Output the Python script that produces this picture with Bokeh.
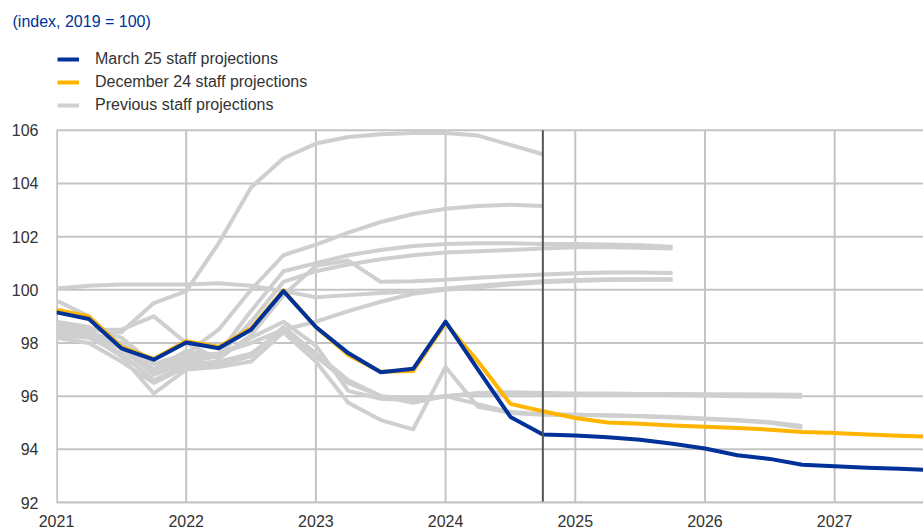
from bokeh.plotting import figure
from bokeh.models import Range1d, FixedTicker, Legend, LegendItem
from bokeh.embed import file_html
from bokeh.resources import INLINE

# ---------------- data ----------------
quarters = [f"{y}Q{q}" for y in range(2021, 2028) for q in range(1, 5)]

march25 = [99.15, 98.9, 97.8, 97.37, 98.02, 97.8, 98.5, 99.95, 98.6, 97.62, 96.9, 97.03,
           98.8, 97.0, 95.22, 94.56, 94.52, 94.45, 94.36, 94.21, 94.03, 93.78, 93.64, 93.42,
           93.36, 93.31, 93.27, 93.22]
december24 = [99.25, 99.0, 97.85, 97.4, 98.07, 97.85, 98.55, 99.98, 98.6, 97.55, 96.92, 96.95,
              98.75, 97.3, 95.71, 95.43, 95.18, 95.01, 94.96, 94.9, 94.85, 94.8, 94.74, 94.65,
              94.61, 94.56, 94.51, 94.47]

prev_a = [98.6, 98.5, 98.4, 99.5, 99.95, 101.75, 103.85, 104.95, 105.5, 105.75, 105.85, 105.9,
          105.9, 105.8, 105.45, 105.1]
prev_b = [98.8, 98.6, 98.2, 97.2, 97.6, 98.5, 100.0, 101.3, 101.7, 102.15, 102.55, 102.85,
          103.05, 103.15, 103.2, 103.15]
prev_c = [98.5, 98.4, 98.0, 97.0, 97.5, 97.6, 99.2, 100.7, 101.0, 101.3, 101.5, 101.65,
          101.72, 101.75, 101.75, 101.72, 101.72, 101.7, 101.68, 101.62]
prev_d = [98.7, 98.5, 98.5, 99.0, 98.0, 97.4, 98.3, 99.8, 100.9, 101.1, 100.3, 100.32,
          100.38, 100.45, 100.52, 100.58, 100.62, 100.65, 100.65, 100.63]
prev_e = [98.4, 98.3, 97.8, 96.8, 97.3, 97.5, 98.8, 100.3, 100.7, 100.95, 101.15, 101.3,
          101.4, 101.45, 101.5, 101.55, 101.6, 101.6, 101.58, 101.55]
prev_f = [100.05, 100.15, 100.2, 100.2, 100.2, 100.25, 100.15, 99.95, 99.72, 99.8, 99.88, 99.95,
          100.05, 100.15, 100.25, 100.32, 100.37, 100.4, 100.4, 100.4]
prev_g = [98.6, 98.4, 97.9, 96.9, 97.4, 97.6, 98.0, 98.5, 98.8, 99.2, 99.55, 99.85,
          100.0, 100.1, 100.2, 100.28, 100.33, 100.37, 100.38, 100.38]
prev_h = [99.6, 99.0, 97.9, 97.0, 97.7, 97.5, 98.2, 98.8, 97.9, 96.2, 95.9, 95.85,
          96.0, 96.12, 96.15, 96.12, 96.1, 96.1, 96.08, 96.08, 96.07, 96.07, 96.06, 96.05]
prev_i = [98.3, 98.2, 97.6, 96.6, 97.2, 97.3, 97.6, 98.5, 97.5, 96.5, 96.0, 95.75,
          96.0, 96.1, 96.1, 96.1, 96.05, 96.05, 96.05, 96.03, 96.02, 96.0, 96.0, 95.98]
prev_j = [98.5, 98.3, 97.5, 96.1, 97.0, 97.1, 97.3, 98.4, 97.3, 95.75, 95.1, 94.75,
          97.1, 95.6, 95.37, 95.3, 95.3, 95.27, 95.24, 95.2, 95.14, 95.08, 95.0, 94.82]
prev_k = [98.2, 98.0, 97.3, 96.5, 97.1, 97.2, 97.5, 98.6, 97.6, 96.6, 96.0, 95.9,
          96.0, 95.7, 95.4, 95.32, 95.3, 95.28, 95.25, 95.22, 95.16, 95.1, 95.02, 94.88]
previous = [prev_a, prev_b, prev_c, prev_d, prev_e, prev_f, prev_g, prev_h, prev_i, prev_j, prev_k]

year_ticks = [2021, 2022, 2023, 2024, 2025, 2026, 2027]
year_labels = ["2021", "2022", "2023", "2024", "2025", "2026", "2027"]
y_ticks = [92, 94, 96, 98, 100, 102, 104, 106]
cutoff = "2024Q4"

title_text = "(index, 2019 = 100)"
names = ["March 25 staff projections", "December 24 staff projections", "Previous staff projections"]


def qpos(q):
    return int(q[:4]) + (int(q[5]) - 1) / 4.0


x_all = [qpos(q) for q in quarters]

# ---------------- styling / layout ----------------
BLUE = "#003299"
YELLOW = "#ffb400"
GREY = "#cfcfcf"
GRID = "#c4c4c4"
TEXT = "#333333"
FONT = "Liberation Sans"

W, H = 923, 529
TOP, LEFT, BOTTOM = 30, 56, 26          # borders in px
PLOT_TOP_PX = 130                        # page y of the 106 gridline
x_end = 2027.685
y_min, y_max_axis = y_ticks[0], y_ticks[-1]
px_per_unit = (H - BOTTOM - PLOT_TOP_PX) / (y_max_axis - y_min)
y_top = y_max_axis + (PLOT_TOP_PX - TOP) / px_per_unit

p = figure(width=W, height=H,
           x_range=Range1d(year_ticks[0], x_end), y_range=Range1d(y_min, y_top),
           output_backend="svg", toolbar_location=None,
           min_border_left=LEFT, min_border_right=0, min_border_top=TOP, min_border_bottom=BOTTOM)

p.background_fill_color = "white"
p.border_fill_color = "white"
p.outline_line_color = None
p.xgrid.grid_line_color = None
p.ygrid.grid_line_color = None

p.title.text = title_text
p.title.align = "left"
p.title.offset = -44
p.title.standoff = 1
p.title.text_font = FONT
p.title.text_font_size = "16px"
p.title.text_font_style = "normal"
p.title.text_color = BLUE

for ax, ticks in ((p.xaxis, year_ticks), (p.yaxis, y_ticks)):
    ax.ticker = FixedTicker(ticks=ticks)
    ax.major_tick_line_color = None
    ax.minor_tick_line_color = None
    ax.major_label_text_font = FONT
    ax.major_label_text_font_size = "16px"
    ax.major_label_text_color = TEXT
p.xaxis.axis_line_color = GRID
p.xaxis.axis_line_width = 2
p.yaxis.axis_line_color = None
p.xaxis.major_label_overrides = {t: l for t, l in zip(year_ticks, year_labels)}
p.yaxis.major_label_overrides = {t: str(t) for t in y_ticks}
p.xaxis.major_label_standoff = 6
p.yaxis.major_label_standoff = 12

# grid restricted to the 92..106 plotting area
p.segment(x0=year_ticks, y0=[y_min] * len(year_ticks), x1=year_ticks, y1=[y_max_axis] * len(year_ticks),
          line_color=GRID, line_width=2)
p.segment(x0=[year_ticks[0]] * len(y_ticks), y0=y_ticks, x1=[x_end] * len(y_ticks), y1=y_ticks,
          line_color=GRID, line_width=2)
p.segment(x0=[year_ticks[0]], y0=[y_min], x1=[year_ticks[0]], y1=[y_max_axis],
          line_color=GRID, line_width=3)

grey_renderers = []
for s in previous:
    r = p.line(x_all[:len(s)], s, line_color=GREY, line_width=4, line_join="round")
    grey_renderers.append(r)

r_dec = p.line(x_all[:len(december24)], december24, line_color=YELLOW, line_width=4, line_join="round")
r_mar = p.line(x_all[:len(march25)], march25, line_color=BLUE, line_width=4, line_join="round")

p.segment(x0=[qpos(cutoff)], y0=[y_min], x1=[qpos(cutoff)], y1=[y_max_axis],
          line_color="#555555", line_width=2)

legend = Legend(items=[LegendItem(label=names[0], renderers=[r_mar]),
                       LegendItem(label=names[1], renderers=[r_dec]),
                       LegendItem(label=names[2], renderers=[grey_renderers[0]])],
                location=(1, H - BOTTOM - 116), orientation="vertical",
                padding=0, spacing=3, margin=0,
                glyph_width=22, glyph_height=20, label_standoff=16,
                label_text_font=FONT, label_text_font_size="16px", label_text_color=TEXT,
                border_line_color=None, background_fill_alpha=0)
p.add_layout(legend)

open("out.html", "w").write(file_html(p, INLINE))
